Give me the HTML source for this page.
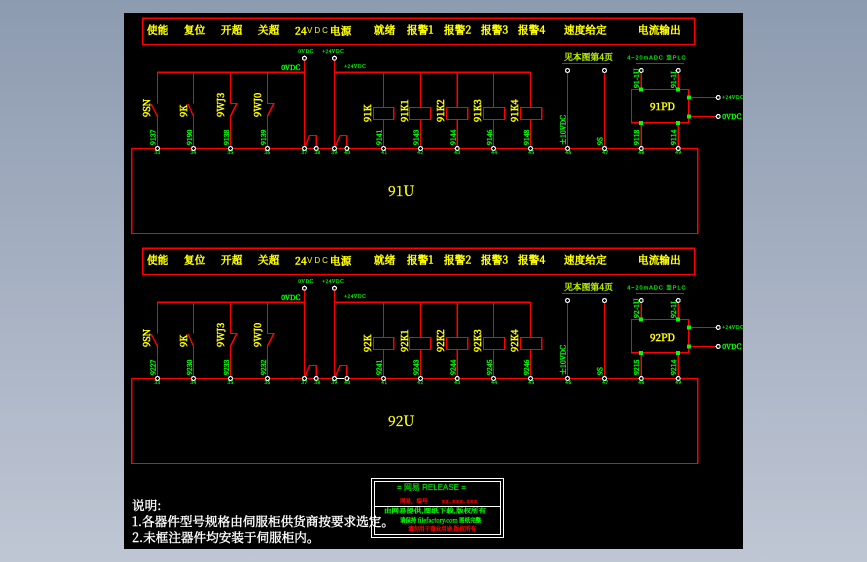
<!DOCTYPE html>
<html><head><meta charset="utf-8"><style>
html,body{margin:0;padding:0;width:867px;height:562px;overflow:hidden;background:#a5afc0}
svg{display:block}
.r{stroke:#f00;stroke-width:1.4;fill:none;shape-rendering:crispEdges}
.w{stroke:#fff;stroke-width:1.2;fill:#000;shape-rendering:crispEdges}
text{font-family:"Noto Serif CJK SC","Liberation Serif",serif}
.y{fill:#ff0;font-size:10.5px;stroke:#ff0;stroke-width:.6;letter-spacing:.2px}
.v{fill:#ff0;font-size:9.5px;stroke:#ff0;stroke-width:.55}
.g{fill:#0f0;font-size:7px;stroke:#0f0;stroke-width:.5}
.t{fill:#0f0;font-size:5px;font-family:"Liberation Sans",sans-serif;letter-spacing:.4px;stroke:#0f0;stroke-width:.25}
.s{fill:#0f0;font-size:5.5px;font-family:"Liberation Sans",sans-serif;letter-spacing:1px;stroke:#0f0;stroke-width:.2}
.n{fill:#fff;font-size:12.6px;stroke:#fff;stroke-width:.4}
.b{font-family:"Liberation Sans",sans-serif;font-size:8px;letter-spacing:2px;fill:#ff0}
.p{fill:#b8f000;font-size:8.8px;stroke:#b8f000;stroke-width:.5}
.u{fill:#ff0;font-size:14px;stroke:#ff0;stroke-width:.3}
.d{fill:#ff0;font-size:10px;stroke:#ff0;stroke-width:.55}
</style></head><body>
<svg width="867" height="562" viewBox="0 0 867 562" xmlns="http://www.w3.org/2000/svg">
<defs>
<linearGradient id="bg" x1="0" y1="0" x2="0" y2="1"><stop offset="0" stop-color="#8d9bb0"/><stop offset="1" stop-color="#bfc6d4"/></linearGradient>
<g id="sh" transform="translate(.2,.2)">
<path class="r" d="M304.3 72H157.3V103.5M151 104L157.3 116V148M193.3 72V103.5M188 104L193.3 116V148M230.3 72V103.3H236.7L230.3 116V148M267.3 72V103.3H273.7L267.3 116V148"/>
<path class="r" d="M304.3 58V148M334.3 58V148M304.3 148L309.3 135.3H316V148M334.3 148L340 135.3H346.7V148M334.3 72H530.3"/>
<path class="r" d="M383.3 72V107M383.3 119V148M420.3 72V107M420.3 119V148M457 72V107M457 119V148M493.3 72V107M493.3 119V148M530.3 72V107M530.3 119V148"/>
<rect class="r" x="373.3" y="107.3" width="20.4" height="12"/><rect class="r" x="409.3" y="107.3" width="21.4" height="12"/><rect class="r" x="446.3" y="107.3" width="21.4" height="12"/><rect class="r" x="483.3" y="107.3" width="21.4" height="12"/><rect class="r" x="520.3" y="107.3" width="21.4" height="12"/>
<path class="r" d="M567.3 70V148M604.3 70V148M641 70V89M678 70V89M641 123V148M678 123V148M689 97.3H718M689 116.3H718"/>
<rect class="r" x="631.3" y="89.3" width="57.4" height="33.4"/>
<rect class="r" x="131.5" y="148.3" width="566" height="85"/>
<path fill="#0f0" shape-rendering="crispEdges" d="M639 87.5h4v4h-4zM676 87.5h4v4h-4zM639 121h4v4h-4zM676 121h4v4h-4zM687 95.5h4v4h-4zM687 114.5h4v4h-4z"/>
<g class="w">
<circle cx="157.3" cy="148.3" r="1.9"/><circle cx="193.3" cy="148.3" r="1.9"/><circle cx="230.3" cy="148.3" r="1.9"/><circle cx="267.3" cy="148.3" r="1.9"/><circle cx="304.3" cy="148.3" r="1.9"/><circle cx="316" cy="148.3" r="1.9"/><circle cx="334.3" cy="148.3" r="1.9"/><circle cx="346.7" cy="148.3" r="1.9"/><circle cx="383.3" cy="148.3" r="1.9"/><circle cx="420.3" cy="148.3" r="1.9"/><circle cx="457" cy="148.3" r="1.9"/><circle cx="493.3" cy="148.3" r="1.9"/><circle cx="530.3" cy="148.3" r="1.9"/><circle cx="567.3" cy="148.3" r="1.9"/><circle cx="604.3" cy="148.3" r="1.9"/><circle cx="641" cy="148.3" r="1.9"/><circle cx="678" cy="148.3" r="1.9"/>
<circle cx="304.3" cy="58" r="1.9"/><circle cx="334.3" cy="58" r="1.9"/><circle cx="567.3" cy="70.3" r="1.9"/><circle cx="604.3" cy="70.3" r="1.9"/><circle cx="641" cy="70.3" r="1.9"/><circle cx="678" cy="70.3" r="1.9"/><circle cx="718" cy="97.3" r="1.9"/><circle cx="718" cy="116.3" r="1.9"/>
</g>
<path class="r" d="M142.5 18H694.5V44.3H142.5ZM636 63.3H683.7M562 63.3H610"/>
<g class="t">
<text x="154" y="154">33</text><text x="190" y="154">34</text><text x="227" y="154">35</text><text x="264" y="154">36</text><text x="301" y="154">37</text><text x="314" y="154">38</text><text x="331" y="154">39</text><text x="344" y="154">40</text><text x="381" y="154">41</text><text x="417" y="154">42</text><text x="454" y="154">43</text><text x="491" y="154">44</text><text x="528" y="154">45</text><text x="565" y="154">46</text><text x="602" y="154">47</text><text x="638" y="154">48</text><text x="675" y="154">49</text>
<text x="298" y="53">0VDC</text><text x="322" y="53">+24VDC</text><text x="344" y="68">+24VDC</text><text x="722" y="99">+24VDC</text>
</g>
<text class="g" x="281" y="70">0VDC</text>
<text class="g" x="722" y="119">0VDC</text>
<text class="s" x="627" y="59.5">4~20mADC 至PLC</text>
</g>
</defs>
<rect width="867" height="562" fill="url(#bg)"/>
<rect x="124" y="13" width="619" height="536" fill="#000"/>
<use href="#sh"/>
<use href="#sh" y="230"/>
<path d="M337 378.5H344" stroke="#fff" stroke-width="1" shape-rendering="crispEdges"/>

<!-- block 1 text -->
<g class="y">
<text x="147" y="33.5">使能</text><text x="184" y="33.5">复位</text><text x="221" y="33.5">开超</text><text x="258" y="33.5">关超</text>
<text x="295" y="34.5">24</text><text x="330" y="34.5">电源</text><text x="374" y="33.5">就绪</text><text x="407" y="33.5">报警1</text><text x="444" y="33.5">报警2</text><text x="481" y="33.5">报警3</text><text x="518" y="33.5">报警4</text><text x="564" y="33.5">速度给定</text><text x="638" y="33.5">电流输出</text>
</g>
<text x="307" y="33" class="b">VDC</text>
<text x="564" y="60" class="p">见本图第4页</text>
<text x="388" y="196" class="u">91U</text>
<text x="650" y="110" class="d">91PD</text>
<g class="v">
<text transform="translate(150,117) rotate(-90)">9SN</text><text transform="translate(187,117) rotate(-90)">9K</text><text transform="translate(224,117) rotate(-90)">9WJ3</text><text transform="translate(261,117) rotate(-90)">9WJ0</text>
<text transform="translate(371,122) rotate(-90)">91K</text><text transform="translate(408,122) rotate(-90)">91K1</text><text transform="translate(444,122) rotate(-90)">91K2</text><text transform="translate(481,122) rotate(-90)">91K3</text><text transform="translate(518,122) rotate(-90)">91K4</text>
</g>
<g class="g">
<text transform="translate(155.5,145) rotate(-90)">9137</text><text transform="translate(192,145) rotate(-90)">9190</text><text transform="translate(229,145) rotate(-90)">9138</text><text transform="translate(266,145) rotate(-90)">9139</text><text transform="translate(381.5,145) rotate(-90)">9141</text><text transform="translate(418.5,145) rotate(-90)">9143</text><text transform="translate(455.5,145) rotate(-90)">9144</text><text transform="translate(492,145) rotate(-90)">9146</text><text transform="translate(529,145) rotate(-90)">9148</text>
<text transform="translate(565.5,145) rotate(-90)">±10VDC</text><text transform="translate(602.5,145) rotate(-90)">9S</text><text transform="translate(639,145) rotate(-90)">9118</text><text transform="translate(676,145) rotate(-90)">9114</text>
<text transform="translate(639,88) rotate(-90)">91-1U</text><text transform="translate(676,88) rotate(-90)">91-1I</text>
</g>

<!-- block 2 text -->
<g class="y">
<text x="147" y="263.5">使能</text><text x="184" y="263.5">复位</text><text x="221" y="263.5">开超</text><text x="258" y="263.5">关超</text>
<text x="295" y="264.5">24</text><text x="330" y="264.5">电源</text><text x="374" y="263.5">就绪</text><text x="407" y="263.5">报警1</text><text x="444" y="263.5">报警2</text><text x="481" y="263.5">报警3</text><text x="518" y="263.5">报警4</text><text x="564" y="263.5">速度给定</text><text x="638" y="263.5">电流输出</text>
</g>
<text x="307" y="263" class="b">VDC</text>
<text x="564" y="290" class="p">见本图第4页</text>
<text x="388" y="426" class="u">92U</text>
<text x="650" y="341" class="d">92PD</text>
<g class="v">
<text transform="translate(150,347) rotate(-90)">9SN</text><text transform="translate(187,347) rotate(-90)">9K</text><text transform="translate(224,347) rotate(-90)">9WJ3</text><text transform="translate(261,347) rotate(-90)">9WJ0</text>
<text transform="translate(371,352) rotate(-90)">92K</text><text transform="translate(408,352) rotate(-90)">92K1</text><text transform="translate(444,352) rotate(-90)">92K2</text><text transform="translate(481,352) rotate(-90)">92K3</text><text transform="translate(518,352) rotate(-90)">92K4</text>
</g>
<g class="g">
<text transform="translate(155.5,375) rotate(-90)">9227</text><text transform="translate(192,375) rotate(-90)">9230</text><text transform="translate(229,375) rotate(-90)">9233</text><text transform="translate(266,375) rotate(-90)">9232</text><text transform="translate(381.5,375) rotate(-90)">9241</text><text transform="translate(418.5,375) rotate(-90)">9243</text><text transform="translate(455.5,375) rotate(-90)">9244</text><text transform="translate(492,375) rotate(-90)">9245</text><text transform="translate(529,375) rotate(-90)">9246</text>
<text transform="translate(565.5,375) rotate(-90)">±10VDC</text><text transform="translate(602.5,375) rotate(-90)">9S</text><text transform="translate(639,375) rotate(-90)">9215</text><text transform="translate(676,375) rotate(-90)">9214</text>
<text transform="translate(639,318) rotate(-90)">92-1U</text><text transform="translate(676,318) rotate(-90)">92-1I</text>
</g>

<!-- notes -->
<text class="n" x="132" y="510">说明:</text>
<text class="n" x="132" y="526">1.各器件型号规格由伺服柜供货商按要求选定。</text>
<text class="n" x="132" y="542">2.未框注器件均安装于伺服柜内。</text>

<!-- title block -->
<g fill="none" stroke="#fff" stroke-width="1" shape-rendering="crispEdges">
<rect x="371.5" y="478.5" width="132" height="59"/>
<rect x="374.5" y="481.5" width="126" height="53"/>
<path d="M374.5 506.5H500.5"/>
</g>
<text x="397" y="490" fill="#0d0" stroke="#0d0" stroke-width=".2" style="font-family:'Liberation Sans','Noto Sans CJK SC',sans-serif;font-size:8px">=  网易  RELEASE  =</text>
<text x="400" y="503" fill="#f00" stroke="#f00" stroke-width=".3" style="font-size:5.5px">网易，编号</text>
<text x="442" y="503" fill="#f00" stroke="#f00" stroke-width=".3" style="font-size:5px;letter-spacing:1px">xx.xxx.xxx</text>
<text x="384" y="513" fill="#0f0" stroke="#0f0" stroke-width=".35" style="font-size:6px" textLength="102" lengthAdjust="spacingAndGlyphs">由网易提供,图纸下载,版权所有</text>
<text x="400" y="522.5" fill="#0f0" stroke="#0f0" stroke-width=".35" style="font-size:6px" textLength="81" lengthAdjust="spacingAndGlyphs">请保持 filefactory.com 图纸完整</text>
<text x="408" y="531" fill="#f00" stroke="#f00" stroke-width=".35" style="font-size:6px" textLength="68" lengthAdjust="spacingAndGlyphs">请勿用于商业用途,版权所有</text>
</svg>
</body></html>
